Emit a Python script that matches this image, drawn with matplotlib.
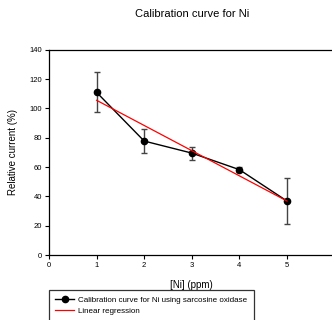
import numpy as np
import matplotlib.pyplot as plt

conc_ppm = [1, 2, 3, 4, 5]
rel_current = [110.9, 77.7, 69.5, 58.2, 36.8]
err_up = [13.6, 8.0, 4.4, 1.8, 15.5]
err_down = [13.4, 8.2, 4.5, 1.8, 15.9]

reg_x = [1, 5]
reg_y = [105.5, 36.8]

x_ticks = [0, 1, 2, 3, 4, 5]
y_ticks = [0, 20, 40, 60, 80, 100, 120, 140]

plt.rcParams['font.family'] = ['Liberation Sans', 'DejaVu Sans']

fig = plt.figure(figsize=(3.32, 3.20), dpi=100)
ax = fig.add_axes([49 / 332, 65 / 320, 285.6 / 332, 205.3 / 320])

ax.errorbar(conc_ppm, rel_current, yerr=[err_down, err_up], fmt='none',
            ecolor='#444444', elinewidth=1.0, capsize=2.3, capthick=1.0, zorder=2)
ax.plot(conc_ppm, rel_current, color='black', lw=1.0, marker='o', ms=4.5,
        label='Calibration curve for Ni using sarcosine oxidase', zorder=3)
ax.plot(reg_x, reg_y, color='red', lw=0.9, label='Linear regression', zorder=4)

ax.set_xlim(0, 6)
ax.set_ylim(0, 140)
ax.set_xticks(x_ticks)
ax.set_yticks(y_ticks)
ax.tick_params(direction='out', length=3, width=0.8, labelsize=5.5, pad=2)
for s in ax.spines.values():
    s.set_linewidth(0.9)

ax.set_xlabel('[Ni] (ppm)', fontsize=7, labelpad=8)
ax.set_ylabel('Relative current (%)', fontsize=7, labelpad=8)
fig.text(192 / 332, 1 - 14 / 320, 'Calibration curve for Ni', ha='center', va='center', fontsize=8)

leg = fig.legend(loc='upper left', bbox_to_anchor=(49 / 332, 1 - 290 / 320),
                 fontsize=5.8, frameon=True, fancybox=False, edgecolor='black',
                 handlelength=2.3, handletextpad=0.5, borderpad=0.8,
                 labelspacing=0.35, borderaxespad=0)
leg.get_frame().set_linewidth(0.9)

fig.savefig('out.png', dpi=100)
